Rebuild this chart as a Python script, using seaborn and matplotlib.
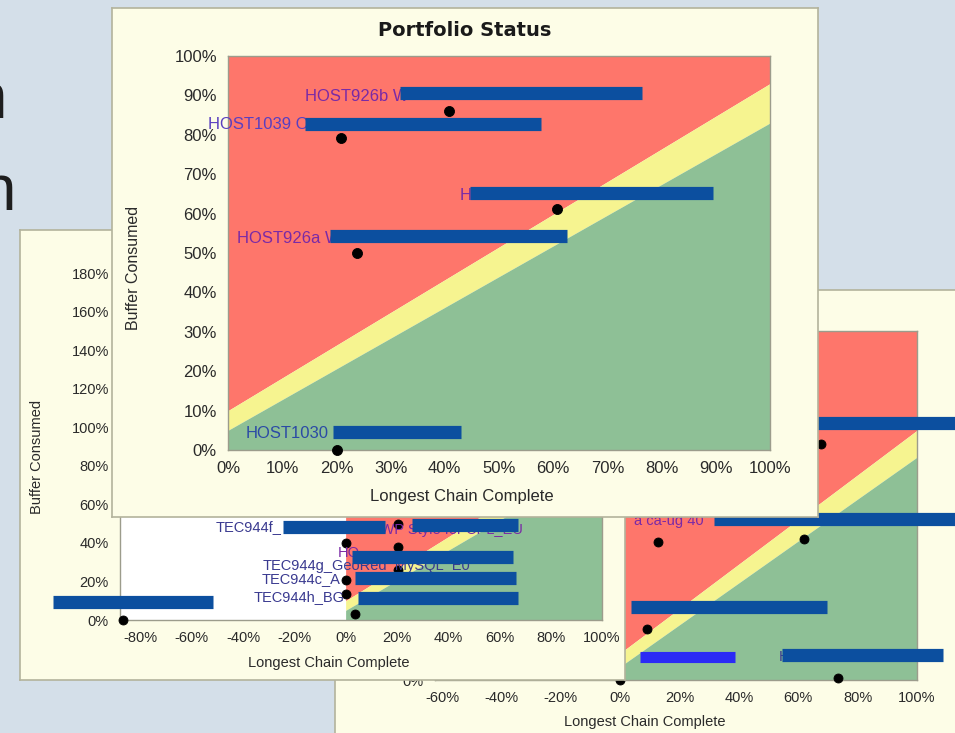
import matplotlib
matplotlib.use("Agg")
import matplotlib.pyplot as plt
import seaborn as sns
from matplotlib.ticker import PercentFormatter, MultipleLocator

sns.set_style("white")
plt.rcParams['font.family'] = ['Liberation Sans', 'DejaVu Sans']
plt.rcParams['axes.unicode_minus'] = False

# ---- data (fractions, 1.0 = 100%) ----
zone_x = [0.0, 1.0]
red_floor = [0.10, 0.93]
green_top = [0.05, 0.83]

front_x = [0.408, 0.208, 0.607, 0.238, 0.201]
front_y = [0.860, 0.792, 0.612, 0.500, 0.0]
front_names = ["HOST926b W", "HOST1039 O", "H", "HOST926a W", "HOST1030"]

left_x = [-0.87, 0.205, 0.0, 0.205, 0.205, 0.0, 0.0, 0.035]
left_y = [0.0, 0.50, 0.40, 0.38, 0.26, 0.21, 0.135, 0.03]
left_names = ["TEC944f_", "HOST1015 WP Style for CPL_EU", "HO",
              "TEC944g_GeoRed_MySQL_E0", "TEC944c_A", "TEC944h_BG"]

right_x = [0.677, 0.128, 0.620, 0.090, 0.734, 0.0]
right_y = [0.880, 0.515, 0.526, 0.190, 0.007, 0.0]
right_names = ["a ca-ug 40", "H"]

# ---- styles ----
W, H = 955, 733
BG = '#d4dfe9'
CREAM = '#fdfde7'
RED = '#fe766b'
YELLOW = '#f6f490'
GREEN = '#8ec096'
BAR = '#0c4f9f'
PURPLE = '#7a2aa6'
NAVY = '#3a3a90'
TICK = '#2a2a2a'

fig = plt.figure(figsize=(W / 100, H / 100), dpi=100, facecolor=BG)


def frac(x0, y0, x1, y1):
    return [x0 / W, 1 - y1 / H, (x1 - x0) / W, (y1 - y0) / H]


def fpos(x, y):
    return x / W, 1 - y / H


def make_panel(box, z):
    p = fig.add_axes(frac(*box), zorder=z)
    p.set_facecolor(CREAM)
    p.set_xticks([])
    p.set_yticks([])
    for s in p.spines.values():
        s.set_color('#b3b39c')
        s.set_linewidth(1.2)
    return p


def make_plot(box, z, xlim, ylim, xstep, ystep, size):
    ax = fig.add_axes(frac(*box), zorder=z)
    ax.set_facecolor('white')
    ax.set_xlim(*xlim)
    ax.set_ylim(*ylim)
    ax.xaxis.set_major_locator(MultipleLocator(xstep))
    ax.yaxis.set_major_locator(MultipleLocator(ystep))
    ax.xaxis.set_major_formatter(PercentFormatter(1.0, decimals=0))
    ax.yaxis.set_major_formatter(PercentFormatter(1.0, decimals=0))
    ax.tick_params(direction='out', length=5, width=1, color='#8a8a80',
                   labelsize=size, labelcolor=TICK, pad=3)
    for s in ax.spines.values():
        s.set_color('#9c9c8c')
        s.set_linewidth(1)
    return ax


def draw_zones(ax, top):
    ax.fill_between(zone_x, red_floor, top, color=RED, lw=0, zorder=1)
    ax.fill_between(zone_x, green_top, red_floor, color=YELLOW, lw=0, zorder=1)
    ax.fill_between(zone_x, 0, green_top, color=GREEN, lw=0, zorder=1)


def draw_points(ax, xs, ys, s):
    sns.scatterplot(x=xs, y=ys, ax=ax, color='black', s=s, edgecolor='black',
                    linewidth=0.6, zorder=5, clip_on=False, legend=False)
    ax.set_xlabel('')
    ax.set_ylabel('')


def redact(ax, bars, color=BAR, lw=9.5):
    for x0, x1, y in bars:
        ax.plot([x0, x1], [y, y], color=color, lw=lw, solid_capstyle='butt',
                zorder=7, clip_on=False)


# big slide text peeking out on the left
fig.text(*fpos(7, 118), "n", fontsize=46, color='#1e1e1e', ha='right',
         va='baseline', zorder=0.5)
fig.text(*fpos(16, 210), "n", fontsize=46, color='#1e1e1e', ha='right',
         va='baseline', zorder=0.5)

# ---------------- back right chart ----------------
pr = make_panel((335, 290, 975, 750), 1)
axr = make_plot((435, 331, 917, 680), 2, (-0.624, 1.0), (0, 1.30), 0.2, 0.2, 10.5)
draw_zones(axr, 1.30)
draw_points(axr, right_x, right_y, 42)
axr.text(0.047, 0.593, right_names[0], color=PURPLE, fontsize=10.5, va='center', zorder=6)
axr.text(0.533, 0.086, right_names[1], color=NAVY, fontsize=10.5, va='center', zorder=6)
redact(axr, [(0.60, 1.20, 0.959), (0.317, 1.20, 0.600),
             (0.037, 0.698, 0.272), (0.546, 1.089, 0.093)])
redact(axr, [(0.067, 0.388, 0.086)], color='#2b2bf5', lw=8)
pr.text(*fpos(645, 722), "Longest Chain Complete", transform=fig.transFigure,
        ha='center', va='center', fontsize=10.5, color=TICK)

# ---------------- back left chart ----------------
pl = make_panel((20, 230, 625, 680), 3)
axl = make_plot((120, 240, 602, 620), 4, (-0.88, 1.0), (0, 1.974), 0.2, 0.2, 10.5)
draw_zones(axl, 1.974)
draw_points(axl, left_x, left_y, 42)
axl.text(-0.506, 0.483, left_names[0], color=NAVY, fontsize=10.5, va='center', zorder=6)
axl.text(0.693, 0.468, left_names[1], color=PURPLE, fontsize=10.5, va='center',
         ha='right', zorder=6)
axl.text(-0.03, 0.348, left_names[2], color=PURPLE, fontsize=10.5, va='center', zorder=6)
axl.text(-0.323, 0.281, left_names[3], color=NAVY, fontsize=10.5, va='center', zorder=6)
axl.text(-0.327, 0.213, left_names[4], color=NAVY, fontsize=10.5, va='center', zorder=6)
axl.text(-0.358, 0.119, left_names[5], color=NAVY, fontsize=10.5, va='center', zorder=6)
redact(axl, [(-0.245, 0.154, 0.483), (0.26, 0.673, 0.494), (0.026, 0.654, 0.327),
             (0.037, 0.665, 0.218), (0.048, 0.673, 0.114), (-1.143, -0.518, 0.094)])
pl.text(*fpos(329, 663), "Longest Chain Complete", transform=fig.transFigure,
        ha='center', va='center', fontsize=10.5, color=TICK)
pl.text(*fpos(37, 457), "Buffer Consumed", transform=fig.transFigure,
        ha='center', va='center', rotation=90, fontsize=10.5, color=TICK)

# ---------------- front chart ----------------
pf = make_panel((112, 8, 818, 517), 5)
axf = make_plot((228, 56, 770, 450), 6, (0, 1.0), (0, 1.0), 0.1, 0.1, 12)
draw_zones(axf, 1.0)
draw_points(axf, front_x, front_y, 52)
front_tx = [0.142, -0.037, 0.428, 0.017, 0.033]
front_ty = [0.898, 0.827, 0.647, 0.538, 0.043]
front_col = [PURPLE, '#5a3fc0', PURPLE, PURPLE, '#2b4aa5']
for name, tx, ty, c in zip(front_names, front_tx, front_ty, front_col):
    axf.text(tx, ty, name, color=c, fontsize=12, va='center', zorder=6)
redact(axf, [(0.317, 0.764, 0.906), (0.142, 0.577, 0.827), (0.446, 0.895, 0.652),
             (0.188, 0.625, 0.543), (0.194, 0.430, 0.046)])
pf.text(*fpos(465, 30), "Portfolio Status", transform=fig.transFigure,
        ha='center', va='center', fontsize=14, fontweight='bold',
        family='DejaVu Sans', color='#1a1a1a')
pf.text(*fpos(462, 497), "Longest Chain Complete", transform=fig.transFigure,
        ha='center', va='center', fontsize=12, color=TICK)
pf.text(*fpos(133, 268), "Buffer Consumed", transform=fig.transFigure,
        ha='center', va='center', rotation=90, fontsize=11.5, color=TICK)

fig.savefig("out.png", dpi=100, facecolor=BG)
